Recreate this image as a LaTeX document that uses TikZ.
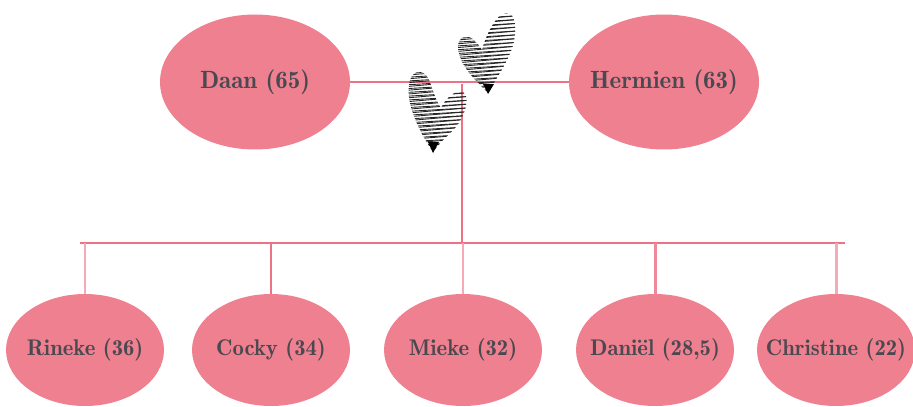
\documentclass[tikz,border=0pt]{standalone}
\usepackage{tikz}
\usetikzlibrary{shapes.geometric}
\definecolor{roze}{HTML}{EF808F}
\definecolor{lijn}{HTML}{EE7286}
\definecolor{lichtlijn}{HTML}{F5AAB5}
\definecolor{tekst}{HTML}{4A4850}

\begin{document}
\begin{tikzpicture}[x=0.02cm, y=-0.02cm,
    parent/.style={ellipse, fill=roze, inner ysep=0pt, inner xsep=-0.9cm, minimum width=3.8cm, minimum height=2.7cm, text=tekst, font=\fontseries{b}\fontsize{14.2}{16}\selectfont},
    child/.style={ellipse, fill=roze, inner ysep=0pt, inner xsep=-0.9cm, minimum width=3.16cm, minimum height=2.24cm, text=tekst, font=\fontseries{b}\fontsize{12.9}{15}\selectfont},
    band/.style={draw=lijn, line width=1.7pt},
    drop/.style={line width=1.7pt},
    scribble/.style={draw=black!85, line width=0.5pt}]
    \useasboundingbox (0,0) rectangle (913,406);

    \node[parent] (daan) at (255,82) {Daan (65)};
    \node[parent] (hermien) at (664,82) {Hermien (63)};
    \node[child] (rineke) at (85,350) {Rineke (36)};
    \node[child] (cocky) at (271,350) {Cocky (34)};
    \node[child] (mieke) at (463,350) {Mieke (32)};
    \node[child] (daniel) at (655,350) {Daniël (28,5)};
    \node[child] (christine) at (836,350) {Christine (22)};

    \coordinate (join) at (462,84);
    \coordinate (bus) at (462,243);
    \coordinate (busL) at (80,243);
    \coordinate (busR) at (845,243);

    \draw[band] (daan.east) -- (hermien.west);
    \draw[band] (join) -- (bus);
    \draw[band] (busL) -- (busR);
    \draw[drop, draw=lichtlijn] (rineke.north) -- (rineke.north |- bus);
    \draw[drop, draw=lijn] (cocky.north) -- (cocky.north |- bus);
    \draw[drop, draw=lichtlijn] (mieke.north) -- (mieke.north |- bus);
    \draw[drop, draw=lijn!60!lichtlijn] (daniel.north) -- (daniel.north |- bus);
    \draw[drop, draw=lichtlijn] (christine.north) -- (christine.north |- bus);

    % hearts
    \begin{scope}
      \clip (433,152) .. controls (418,130) and (404,100) .. (410,80)
        .. controls (414,68) and (426,70) .. (430,82)
        .. controls (434,95) and (438,104) .. (441,108)
        .. controls (446,98) and (455,90) .. (463,92)
        .. controls (470,96) and (466,115) .. (455,128)
        .. controls (445,138) and (438,145) .. (433,152) -- cycle;
      \foreach \k in {0,...,45}
        \draw[scribble] (400,{70+1.9*\k}) -- (470,{66+1.9*\k-2*mod(\k,2)});
    \end{scope}
    \begin{scope}
      \clip (488,93) .. controls (478,82) and (460,68) .. (458,48)
        .. controls (457,36) and (468,34) .. (474,40)
        .. controls (478,44) and (481,48) .. (482,50)
        .. controls (486,35) and (496,14) .. (506,13)
        .. controls (516,12) and (517,30) .. (513,45)
        .. controls (508,62) and (495,80) .. (488,93) -- cycle;
      \foreach \k in {0,...,45}
        \draw[scribble] (452,{12+1.9*\k}) -- (520,{8+1.9*\k-2*mod(\k,2)});
    \end{scope}
    \fill (433,153) -- (428,142) -- (439,142) -- cycle;
    \fill (488,94) -- (483,84) -- (494,84) -- cycle;
\end{tikzpicture}
\end{document}
